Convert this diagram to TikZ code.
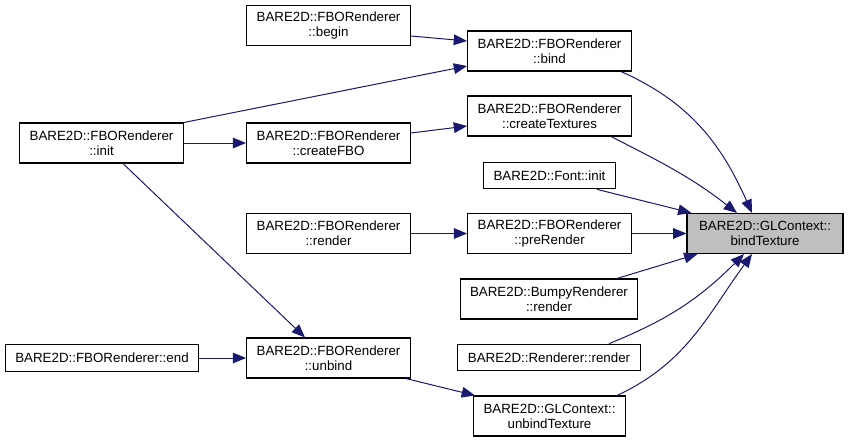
\documentclass[tikz,border=0pt]{standalone}
\usepackage{fontspec}
\setmainfont{Liberation Sans}
\usetikzlibrary{positioning,calc,arrows.meta}
\definecolor{edgeblue}{HTML}{191970}
\definecolor{hlgray}{HTML}{BFBFBF}

\tikzset{
  fn/.style={draw=black, line width=0.8pt, fill=white, align=center,
             font=\fontsize{10}{11.25}\selectfont, inner xsep=7.5pt,
             inner ysep=2pt, minimum height=30pt},
  fnone/.style={fn, minimum height=20pt},
  call/.style={edgeblue, line width=0.75pt,
               -{Triangle[length=10pt,width=8pt]}}
}

\begin{document}
\begin{tikzpicture}[x=0.75pt, y=0.75pt]
\useasboundingbox[fill=white] (0,0) rectangle (848,-443);

% callers, left to right
\node[fn] (begin) at (328.5,-25.5) {BARE2D::FBORenderer\\::begin};
\node[fn] (bind) at (549.5,-51) {BARE2D::FBORenderer\\::bind};
\node[fn] (init) at (101.5,-143) {BARE2D::FBORenderer\\::init};
\node[fn] (cfbo) at (328.5,-143) {BARE2D::FBORenderer\\::createFBO};
\node[fn] (ctex) at (549.5,-116) {BARE2D::FBORenderer\\::createTextures};
\node[fnone] (finit) at (549.5,-175.5) {BARE2D::Font::init};
\node[fn] (frender) at (328.5,-233.5) {BARE2D::FBORenderer\\::render};
\node[fn] (prerender) at (549.5,-233.5) {BARE2D::FBORenderer\\::preRender};
\node[fn] (bumpy) at (549,-299) {BARE2D::BumpyRenderer\\::render};
\node[fnone] (rrender) at (549,-357.5) {BARE2D::Renderer::render};
\node[fnone] (fend) at (102,-358) {BARE2D::FBORenderer::end};
\node[fn] (unbind) at (328.5,-358) {BARE2D::FBORenderer\\::unbind};
\node[fn] (ubtex) at (549.5,-416) {BARE2D::GLContext::\\unbindTexture};
\node[fn, fill=hlgray, minimum width=117pt] (btex) at (765,-233.5)
  {BARE2D::GLContext::\\bindTexture};

% straight calls
\draw[call] ($(begin.east)+(0,-10.5)$) -- ($(bind.west)+(0,10)$);
\draw[call] (init.north east) -- ($(bind.west)+(0,-15)$);
\draw[call] (init) -- (cfbo);
\draw[call] ($(init.south)+(21.5,0)$) -- ($(unbind.north)+(-23.5,0)$);
\draw[call] ($(cfbo.east)+(0,10)$) -- ($(ctex.west)+(0,-10)$);
\draw[call] (frender) -- (prerender);
\draw[call] (fend) -- (unbind);
\draw[call] ($(unbind.south east)+(-5,0)$) -- ($(ubtex.north west)+(2,0)$);
\draw[call] ($(finit.south)+(47.5,0)$) -- ($(btex.north west)+(5,0)$);
\draw[call] (prerender) -- (btex);
\draw[call] ($(bumpy.north)+(68,0)$) -- ($(btex.south west)+(11,0)$);

% curved calls into bindTexture
\draw[call] ($(bind.south)+(71.5,0)$) to[out=-24, in=114] ($(btex.north)+(-13,0)$);
\draw[call] ($(ctex.south)+(61.5,0)$) to[out=-27, in=142] ($(btex.north)+(-28,0)$);
\draw[call] ($(rrender.north)+(60,0)$) to[out=22, in=-135] ($(btex.south)+(-21,0)$);
\draw[call] ($(ubtex.north)+(67.5,0)$) to[out=25, in=-126] ($(btex.south)+(-13,0)$);
\end{tikzpicture}
\end{document}
